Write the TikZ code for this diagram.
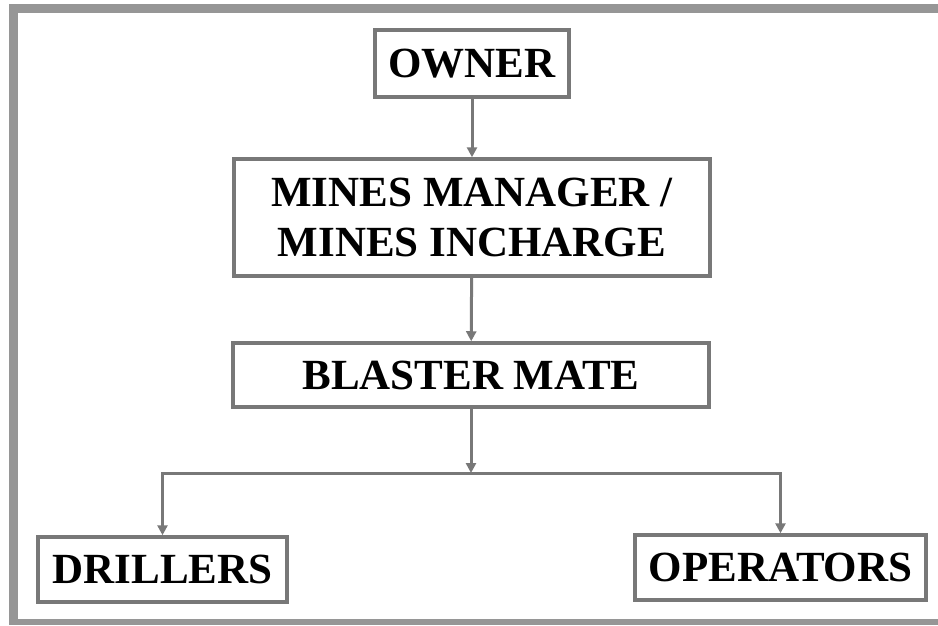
\documentclass[tikz,border=0pt]{standalone}
\usepackage{fontspec}
\setmainfont{Liberation Serif}
\usepackage{tikz}
\usetikzlibrary{arrows.meta}

\definecolor{framegray}{RGB}{150,150,150}
\definecolor{boxgray}{RGB}{120,120,120}

\tikzset{
	rolebox/.style={draw=boxgray, line width=3.5pt, fill=white, align=center,
		font=\fontsize{43}{50}\selectfont\bfseries, inner sep=0pt},
	conn/.style={draw=boxgray, line width=3pt, -{Triangle[length=10pt, width=10pt]}},
}

\begin{document}
\begin{tikzpicture}[x=1pt, y=-1pt]
	% bounding box
	\useasboundingbox (0,0) rectangle (938,625);
	\fill[white] (0,0) rectangle (938,625);
	
	% outer frame (open on the right)
	\draw[framegray, line width=9pt] (938,8.5) -- (13.5,8.5) -- (13.5,625);
	\draw[framegray, line width=6pt] (9,622) -- (938,622);
	
	% boxes
	\node[rolebox, minimum width=194pt, minimum height=67pt] (owner) at (472,63.5) {OWNER};
	\node[rolebox, minimum width=476pt, minimum height=117pt] (manager) at (472,217.5) {MINES MANAGER /\\MINES INCHARGE};
	\node[rolebox, minimum width=476pt, minimum height=64pt] (blaster) at (471,375) {BLASTER MATE};
	\node[rolebox, minimum width=249pt, minimum height=65pt] (drillers) at (162.5,569.5) {DRILLERS};
	\node[rolebox, minimum width=291pt, minimum height=65pt] (operators) at (780.5,567.5) {OPERATORS};
	
	% branch point
	\coordinate (split) at (471,473);
	
	% connectors
	\draw[conn] (owner) -- (manager);
	\draw[conn] (manager) -- (blaster);
	\draw[conn] (blaster) -- (split);
	\draw[conn] (split) -| (drillers);
	\draw[conn] (split) -| (operators);
\end{tikzpicture}
\end{document}
